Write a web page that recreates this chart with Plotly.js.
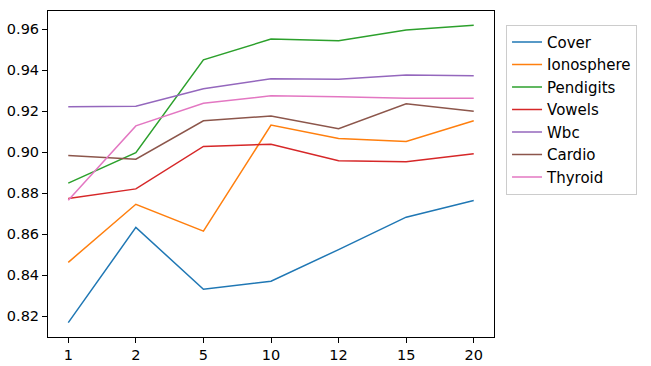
<!DOCTYPE html>
<html>
<head>
<meta charset="utf-8">
<script src="https://cdn.plot.ly/plotly-3.0.1.min.js"></script>
<style>
  html, body { margin: 0; padding: 0; background: #fff; }
  #chart { width: 651px; height: 366px; }
</style>
</head>
<body>
<div id="chart"></div>
<script>
// x categories (number of something, evenly spaced)
var steps = ["1", "2", "5", "10", "12", "15", "20"];

var cover      = [0.8169, 0.8633, 0.8332, 0.8371, 0.8525, 0.8683, 0.8764];
var ionosphere = [0.8463, 0.8746, 0.8615, 0.9132, 0.9067, 0.9052, 0.9153];
var pendigits  = [0.8849, 0.8997, 0.9450, 0.9551, 0.9543, 0.9595, 0.9618];
var vowels     = [0.8774, 0.8821, 0.9028, 0.9039, 0.8958, 0.8953, 0.8992];
var wbc        = [0.9221, 0.9224, 0.9309, 0.9358, 0.9355, 0.9376, 0.9372];
var cardio     = [0.8984, 0.8966, 0.9153, 0.9176, 0.9114, 0.9236, 0.9199];
var thyroid    = [0.8766, 0.9128, 0.9238, 0.9275, 0.9270, 0.9263, 0.9263];

var names  = ["Cover", "Ionosphere", "Pendigits", "Vowels", "Wbc", "Cardio", "Thyroid"];
var series = [cover, ionosphere, pendigits, vowels, wbc, cardio, thyroid];
var colors = ["#1f77b4", "#ff7f0e", "#2ca02c", "#d62728", "#9467bd", "#8c564b", "#e377c2"];

var traces = series.map(function (ys, i) {
  return {
    x: steps,
    y: ys,
    name: names[i],
    type: "scatter",
    mode: "lines",
    line: { color: colors[i], width: 1.5 }
  };
});

var axisStyle = {
  showgrid: false,
  zeroline: false,
  showline: true,
  linecolor: "#000",
  linewidth: 1,
  mirror: true,
  ticks: "outside",
  ticklen: 5,
  tickwidth: 1,
  tickcolor: "#000",
  tickfont: { family: "DejaVu Sans", size: 14.5, color: "#000" }
};

var layout = {
  width: 651,
  height: 366,
  margin: { l: 48, r: 157, t: 11, b: 29 },
  paper_bgcolor: "#fff",
  plot_bgcolor: "#fff",
  font: { family: "DejaVu Sans", size: 15, color: "#000" },
  xaxis: Object.assign({}, axisStyle, { type: "category", range: [-0.3, 6.3] }),
  yaxis: Object.assign({}, axisStyle, {
    range: [0.8099, 0.9688],
    tickvals: [0.82, 0.84, 0.86, 0.88, 0.90, 0.92, 0.94, 0.96],
    tickformat: ".2f"
  }),
  showlegend: true,
  legend: {
    x: 1.027,
    y: 0.958,
    xanchor: "left",
    yanchor: "top",
    bgcolor: "#fff",
    bordercolor: "#cccccc",
    borderwidth: 1,
    font: { family: "DejaVu Sans", size: 15, color: "#000" }
  }
};

Plotly.newPlot("chart", traces, layout, { displayModeBar: false, staticPlot: true });
</script>
</body>
</html>
